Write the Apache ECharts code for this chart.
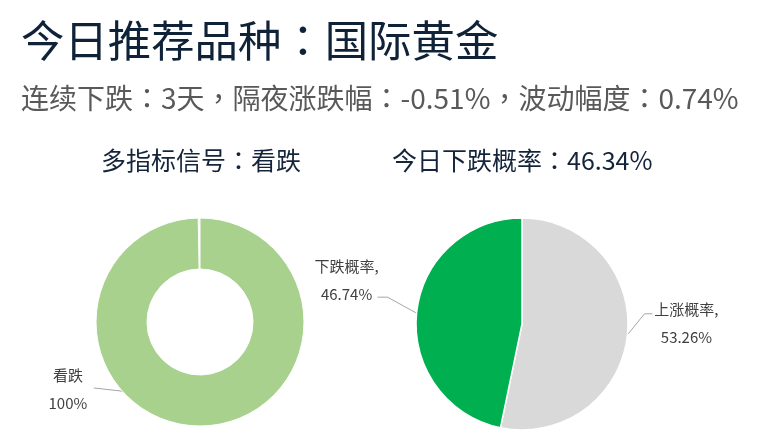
<!DOCTYPE html>
<html>
<head>
<meta charset="utf-8">
<title>今日推荐品种</title>
<script src="https://cdn.jsdelivr.net/npm/echarts@6/dist/echarts.min.js"></script>
<style>
    html, body { margin: 0; padding: 0; background: #fff; }
    #main { width: 764px; height: 445px; }
</style>
</head>
<body>
<div id="main"></div>
<script>
// 文字
var titleText = '今日推荐品种：国际黄金';
var subText = '连续下跌：3天，隔夜涨跌幅：-0.51%，波动幅度：0.74%';
var signalTitle = '多指标信号：看跌';
var probTitle = '今日下跌概率：46.34%';

// 数据
var signalNames = ['看跌'];
var signalValues = [100];
var probNames = ['上涨概率', '下跌概率'];
var probValues = [53.26, 46.74];

var font = '"Noto Sans CJK SC", "Microsoft YaHei", sans-serif';
// 标点居中的字体
var punctFont = '"Noto Sans CJK TC", "Noto Sans CJK SC", sans-serif';
var donutCenter = [200, 322];
var pieCenter = [522, 324];

var chart = echarts.init(document.getElementById('main'));

function toData(names, values) {
    var arr = [];
    for (var i = 0; i < names.length; i++) {
        arr.push({name: names[i], value: values[i]});
    }
    return arr;
}

// 全角冒号、逗号用富文本换字体
function richText(str) {
    return str.replace(/[：，]/g, function (c) { return '{p|' + c + '}'; });
}

function makeTitle(text, left, top, size, color) {
    return {
        text: richText(text),
        left: left,
        top: top,
        padding: 0,
        textStyle: {
            fontFamily: font, fontSize: size, fontWeight: 'normal', color: color,
            rich: {
                p: {fontFamily: punctFont, fontSize: size, color: color}
            }
        }
    };
}

var option = {
    animation: false,
    backgroundColor: '#fff',
    title: [
        makeTitle(titleText, 21, 19, 43.4, '#0f2238'),
        makeTitle(subText, 21, 84, 28, '#595959'),
        makeTitle(signalTitle, 101, 148, 25, '#14243a'),
        makeTitle(probTitle, 392, 148, 25, '#14243a')
    ],
    series: [
        {
            name: '多指标信号',
            type: 'pie',
            center: donutCenter,
            radius: [53, 104],
            startAngle: 90,
            endAngle: -269,
            avoidLabelOverlap: false,
            itemStyle: {color: '#a9d18e', borderColor: '#fff', borderWidth: 1},
            label: {
                show: true,
                position: 'outside',
                formatter: '{b}\n{c}%',
                fontFamily: font,
                fontSize: 15,
                lineHeight: 28,
                color: '#404040'
            },
            labelLine: {show: true, length: 10, length2: 10, lineStyle: {color: '#a6a6a6', width: 1}},
            labelLayout: function (p) {
                var a = p.labelLinePoints ? p.labelLinePoints[0] : [donutCenter[0], donutCenter[1] + 104];
                return {
                    x: a[0] - 133,
                    y: a[1] - 37,
                    align: 'center',
                    verticalAlign: 'middle',
                    labelLinePoints: [[a[0], a[1] - 26], [a[0] - 107, a[1] - 38], [a[0] - 107, a[1] - 38]]
                };
            },
            emphasis: {disabled: true},
            data: toData(signalNames, signalValues)
        },
        {
            name: '今日下跌概率',
            type: 'pie',
            center: pieCenter,
            radius: 106,
            startAngle: 90,
            avoidLabelOverlap: false,
            color: ['#d9d9d9', '#00b050'],
            itemStyle: {borderColor: '#fff', borderWidth: 1.5},
            label: {
                show: true,
                position: 'outside',
                formatter: '{b},\n{c}%',
                fontFamily: font,
                fontSize: 15,
                lineHeight: 28,
                color: '#404040'
            },
            labelLine: {show: true, length: 10, length2: 10, lineStyle: {color: '#a6a6a6', width: 1}},
            labelLayout: function (p) {
                if (!p.labelLinePoints) return {};
                var a = p.labelLinePoints[0];
                if (a[0] < pieCenter[0]) {
                    return {
                        x: a[0] - 70, y: a[1] - 33, align: 'center', verticalAlign: 'middle',
                        labelLinePoints: [[a[0], a[1]], [a[0] - 29, a[1] - 16], [a[0] - 39, a[1] - 16]]
                    };
                }
                return {
                    x: a[0] + 59, y: a[1] - 12, align: 'center', verticalAlign: 'middle',
                    labelLinePoints: [[a[0], a[1]], [a[0] + 17, a[1] - 21], [a[0] + 25, a[1] - 21]]
                };
            },
            emphasis: {disabled: true},
            data: toData(probNames, probValues)
        }
    ]
};

chart.setOption(option);
window.addEventListener('resize', function () {
    chart.resize();
});
</script>
</body>
</html>
